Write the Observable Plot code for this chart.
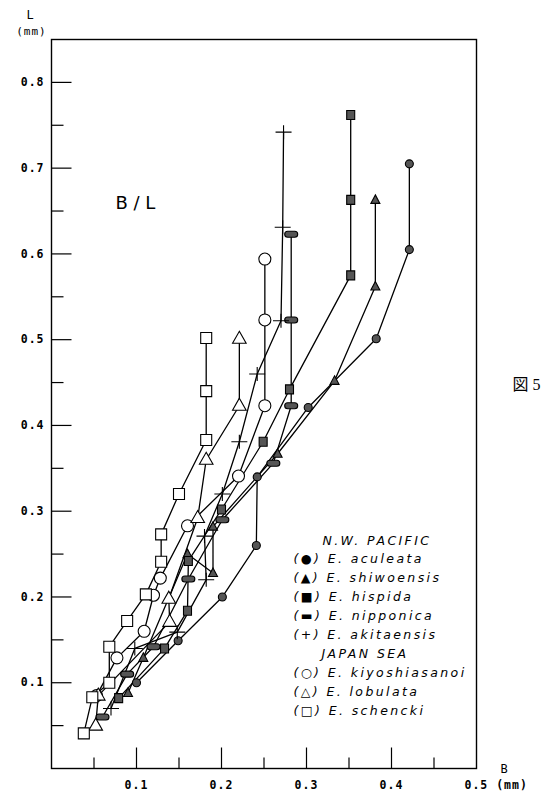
<!DOCTYPE html>
<html>
<head>
<meta charset="utf-8">
<script src="https://cdn.jsdelivr.net/npm/d3@7"></script>
<script src="https://cdn.jsdelivr.net/npm/@observablehq/plot@0.6"></script>
<style>
  html, body { margin: 0; padding: 0; background: #fff; }
  #chart { width: 551px; height: 798px; }
</style>
</head>
<body>
<div id="chart"></div>
<script>
// ---- Data: [B (mm), L (mm)] ----
const aculeata = [[0.100,0.100],[0.149,0.149],[0.201,0.200],[0.241,0.260],[0.242,0.340],[0.302,0.421],[0.382,0.501],[0.421,0.605],[0.421,0.705]];
const shiwoensis = [[0.090,0.088],[0.108,0.129],[0.160,0.250],[0.190,0.228],[0.190,0.282],[0.266,0.367],[0.333,0.452],[0.381,0.562],[0.381,0.663]];
const hispida = [[0.079,0.082],[0.133,0.140],[0.160,0.184],[0.161,0.242],[0.200,0.302],[0.249,0.381],[0.280,0.442],[0.352,0.575],[0.352,0.663],[0.352,0.762]];
const nipponica = [[0.060,0.060],[0.089,0.110],[0.120,0.142],[0.161,0.221],[0.201,0.290],[0.261,0.356],[0.282,0.423],[0.282,0.523],[0.282,0.623]];
const akitaensis = [[0.070,0.070],[0.098,0.140],[0.148,0.159],[0.182,0.220],[0.180,0.271],[0.201,0.320],[0.221,0.381],[0.242,0.460],[0.270,0.522],[0.272,0.631],[0.273,0.742]];
const kiyoshiasanoi = [[0.053,0.085],[0.077,0.129],[0.109,0.160],[0.120,0.202],[0.128,0.222],[0.160,0.283],[0.220,0.341],[0.251,0.423],[0.251,0.523],[0.251,0.594]];
const lobulata = [[0.052,0.050],[0.055,0.085],[0.139,0.171],[0.138,0.198],[0.172,0.292],[0.182,0.360],[0.221,0.423],[0.221,0.501]];
const schencki = [[0.038,0.041],[0.048,0.083],[0.068,0.100],[0.068,0.142],[0.089,0.172],[0.111,0.203],[0.129,0.241],[0.129,0.273],[0.150,0.320],[0.182,0.383],[0.182,0.440],[0.182,0.502]];

// ---- Tick values / labels ----
const xMajor = [0.1, 0.2, 0.3, 0.4];
const xMinor = [0.05, 0.15, 0.25, 0.35, 0.45];
const xLabels = [0.1, 0.2, 0.3, 0.4];
const yMajor = [0.1, 0.2, 0.3, 0.4, 0.5, 0.6, 0.7, 0.8];
const yMinor = [0.05, 0.15, 0.25, 0.35, 0.45, 0.55, 0.65, 0.75];
const yLabels = [0.1, 0.2, 0.3, 0.4, 0.5, 0.6, 0.7, 0.8];

const pacificTitle = "N.W. PACIFIC";
const japanTitle = "JAPAN SEA";
const pacificLegend = ["(●) E. aculeata", "(▲) E. shiwoensis", "(■) E. hispida", "(▬) E. nipponica", "(+) E. akitaensis"];
const japanLegend = ["(○) E. kiyoshiasanoi", "(△) E. lobulata", "(□) E. schencki"];

// ---- Symbols (pixel shapes) ----
const S = {
  openSquare: {draw(c){ c.rect(-5.5, -5.5, 11, 11); }},
  openCircle: {draw(c){ c.moveTo(6, 0); c.arc(0, 0, 6, 0, 2*Math.PI); }},
  openTri:    {draw(c){ c.moveTo(0, -7.5); c.lineTo(6.8, 4.5); c.lineTo(-6.8, 4.5); c.closePath(); }},
  dot:        {draw(c){ c.moveTo(4, 0); c.arc(0, 0, 4, 0, 2*Math.PI); }},
  smallTri:   {draw(c){ c.moveTo(0, -5); c.lineTo(4.5, 3.5); c.lineTo(-4.5, 3.5); c.closePath(); }},
  smallSq:    {draw(c){ c.rect(-4, -4.5, 8, 9); }},
  capsule:    {draw(c){ c.moveTo(-3.5, -3); c.lineTo(3.5, -3); c.arc(3.5, 0, 3, -Math.PI/2, Math.PI/2); c.lineTo(-3.5, 3); c.arc(-3.5, 0, 3, Math.PI/2, 3*Math.PI/2); c.closePath(); }},
  cross:      {draw(c){ c.moveTo(-8, 0); c.lineTo(8, 0); c.moveTo(0, -7); c.lineTo(0, 7); }},
  tickR20:    {draw(c){ c.moveTo(0, 0); c.lineTo(20, 0); }},
  tickR12:    {draw(c){ c.moveTo(0, 0); c.lineTo(12, 0); }},
  tickU21:    {draw(c){ c.moveTo(0, 0); c.lineTo(0, -21); }},
  tickU11:    {draw(c){ c.moveTo(0, 0); c.lineTo(0, -11); }}
};

const series = [
  {name: "aculeata", pts: aculeata, sym: S.dot, fill: "#555"},
  {name: "shiwoensis", pts: shiwoensis, sym: S.smallTri, fill: "#555"},
  {name: "hispida", pts: hispida, sym: S.smallSq, fill: "#555"},
  {name: "nipponica", pts: nipponica, sym: S.capsule, fill: "#555"},
  {name: "akitaensis", pts: akitaensis, sym: S.cross, fill: "none"},
  {name: "kiyoshiasanoi", pts: kiyoshiasanoi, sym: S.openCircle, fill: "white"},
  {name: "lobulata", pts: lobulata, sym: S.openTri, fill: "white"},
  {name: "schencki", pts: schencki, sym: S.openSquare, fill: "white"}
];

const rows = series.flatMap(s => s.pts.map(([b, l]) => ({series: s.name, b, l})));

const FRAME_L = 51, FRAME_T = 39;
const legendFont = "DejaVu Sans, sans-serif";
const legendStyle = {textAnchor: "start", lineAnchor: "middle", fontStyle: "italic", fontSize: 12.5, fontFamily: legendFont, frameAnchor: "top-left"};
const legendMarks = [];
const lx0 = 293, ly0 = 540, lstep = 18.9;
function legendText(t, x, y) {
  return Plot.text([t], {text: d => d, dx: x - FRAME_L, dy: y - FRAME_T, ...legendStyle});
}
legendMarks.push(legendText(pacificTitle, 322, ly0));
pacificLegend.forEach((t, i) => legendMarks.push(legendText(t, lx0, ly0 + (i + 1) * lstep)));
legendMarks.push(legendText(japanTitle, 321, ly0 + 6 * lstep));
japanLegend.forEach((t, i) => legendMarks.push(legendText(t, lx0, ly0 + (i + 7) * lstep)));

const tickFont = "DejaVu Sans Mono, monospace";

const chart = Plot.plot({
  width: 551,
  height: 798,
  marginLeft: 51,
  marginRight: 75,
  marginTop: 39,
  marginBottom: 30,
  x: {domain: [0, 0.5], axis: null},
  y: {domain: [0, 0.85], axis: null},
  style: {background: "white", color: "black", overflow: "visible"},
  marks: [
    Plot.frame({stroke: "black", strokeWidth: 1.4}),
    // inward ticks
    Plot.dot(yMajor, {x: 0, y: d => d, symbol: S.tickR20, stroke: "black", strokeWidth: 1.2, fill: "none"}),
    Plot.dot(yMinor, {x: 0, y: d => d, symbol: S.tickR12, stroke: "black", strokeWidth: 1.2, fill: "none"}),
    Plot.dot(xMajor, {x: d => d, y: 0, symbol: S.tickU21, stroke: "black", strokeWidth: 1.2, fill: "none"}),
    Plot.dot(xMinor, {x: d => d, y: 0, symbol: S.tickU11, stroke: "black", strokeWidth: 1.2, fill: "none"}),
    // tick labels
    Plot.text(yLabels, {x: 0, y: d => d, text: d => d.toFixed(1), textAnchor: "end", dx: -7, fontFamily: tickFont, fontWeight: "bold", fontSize: 11.5}),
    Plot.text(xLabels, {x: d => d, y: 0, text: d => d.toFixed(1), dy: 17, fontFamily: tickFont, fontWeight: "bold", fontSize: 11.5}),
    Plot.text(["0.5 (mm)"], {x: 0.5, y: 0, text: d => d, textAnchor: "start", dx: -12, dy: 17, fontFamily: tickFont, fontWeight: "bold", fontSize: 11.5}),
    Plot.text(["B"], {x: 0.5, y: 0, text: d => d, dx: 28, dy: 1, fontFamily: tickFont, fontSize: 12}),
    Plot.text(["L"], {x: 0, y: 0.85, text: d => d, dx: -21, dy: -24, fontFamily: tickFont, fontSize: 12}),
    Plot.text(["(mm)"], {x: 0, y: 0.85, text: d => d, dx: -20, dy: -8, fontFamily: tickFont, fontSize: 11}),
    // series lines
    Plot.line(rows, {x: "b", y: "l", z: "series", stroke: "black", strokeWidth: 1.3}),
    // series markers
    ...series.map(s => Plot.dot(s.pts, {x: d => d[0], y: d => d[1], symbol: s.sym, fill: s.fill, stroke: "black", strokeWidth: 1.1})),
    // annotations
    Plot.text(["B / L"], {frameAnchor: "top-left", text: d => d, textAnchor: "start", dx: 115 - FRAME_L, dy: 196 - FRAME_T, fontFamily: "DejaVu Sans, sans-serif", fontSize: 18}),
    Plot.text(["図5"], {frameAnchor: "top-right", text: d => d, textAnchor: "start", dx: 512 - 476, dy: 378 - FRAME_T, fontFamily: "Liberation Serif, Noto Sans CJK JP, serif", fontSize: 16}),
    ...legendMarks
  ]
});
// letter spacing: typewriter-like legend and tick labels
chart.querySelectorAll("g[font-style='italic']").forEach(g => g.setAttribute("letter-spacing", "2.4"));
chart.querySelectorAll("g").forEach(g => {
  const ff = g.getAttribute("font-family") || "";
  if (ff.includes("Mono")) g.setAttribute("letter-spacing", "1");
  if (ff.includes("Liberation Serif")) g.setAttribute("letter-spacing", "4");
});
document.getElementById("chart").appendChild(chart);
</script>
</body>
</html>
